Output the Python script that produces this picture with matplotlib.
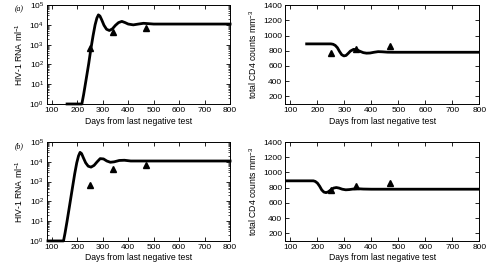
import matplotlib
matplotlib.use("Agg")
import matplotlib.pyplot as plt
from matplotlib.ticker import LogLocator, NullFormatter

# measured data (triangles), same for both rows
obs_days = [250, 342, 470]
obs_rna = [650, 4300, 7000]
obs_cd4 = [768, 828, 866]

# model (a): viral load
a_rna_days = [160, 218, 225, 235, 245, 253, 262, 270, 277, 283, 289, 296, 305, 315, 326,
              338, 350, 362, 375, 388, 400, 420, 440, 460, 480, 500, 800]
a_rna = [1, 1, 3, 18, 110, 560, 2800, 1.0e4, 2.2e4, 3.2e4, 2.8e4, 1.8e4, 9500, 6000, 5200,
         6300, 9500, 1.3e4, 1.5e4, 1.3e4, 1.1e4, 1.0e4, 1.1e4, 1.2e4, 1.15e4, 1.1e4, 1.1e4]
# model (a): CD4
a_cd4_days = [160, 250, 258, 266, 274, 282, 290, 298, 306, 314, 322, 334, 346, 358, 370,
              382, 395, 410, 425, 440, 460, 480, 800]
a_cd4 = [890, 890, 885, 870, 840, 790, 748, 732, 738, 765, 795, 818, 812, 792, 775,
         768, 770, 780, 788, 786, 781, 780, 780]

# model (b): viral load
b_rna_days = [85, 146, 152, 160, 170, 180, 190, 198, 205, 211, 217, 224, 233, 243, 254,
              266, 278, 290, 303, 316, 330, 345, 365, 385, 410, 800]
b_rna = [1, 1, 2.5, 10, 63, 400, 2500, 8900, 2.0e4, 3.0e4, 2.6e4, 1.6e4, 8900, 6000, 5400,
         6600, 1.0e4, 1.45e4, 1.4e4, 1.1e4, 9500, 1.0e4, 1.17e4, 1.2e4, 1.1e4, 1.1e4]
# model (b): CD4
b_cd4_days = [85, 185, 192, 200, 208, 216, 224, 232, 240, 250, 260, 270, 280, 292, 305,
              318, 332, 350, 370, 400, 800]
b_cd4 = [890, 890, 882, 860, 820, 770, 742, 735, 745, 772, 795, 802, 795, 780, 772,
         775, 782, 786, 782, 780, 780]

plt.rcParams['font.family'] = ['Liberation Sans', 'DejaVu Sans']
plt.rcParams['mathtext.fontset'] = 'custom'
plt.rcParams['mathtext.rm'] = 'Liberation Sans'
plt.rcParams['mathtext.it'] = 'Liberation Sans:italic'

fig = plt.figure(figsize=(4.89, 2.68), dpi=100)

left_x, left_w = 0.0955, 0.375
right_x, right_w = 0.583, 0.397
top_y, bot_y, h = 0.612, 0.101, 0.369

rows = [
    (top_y, a_rna_days, a_rna, a_cd4_days, a_cd4, '(a)', 0.965),
    (bot_y, b_rna_days, b_rna, b_cd4_days, b_cd4, '(b)', 0.455),
]


def style(ax):
    ax.tick_params(direction='in', top=True, right=True, length=3, width=0.6,
                   labelsize=6, pad=2)
    ax.tick_params(which='minor', direction='in', top=False, right=True, length=1.5, width=0.5)
    for s in ax.spines.values():
        s.set_linewidth(0.7)
    ax.set_xlim(80, 800)
    ax.set_xticks(range(100, 801, 100))
    ax.set_xlabel('Days from last negative test', fontsize=6.2, labelpad=2)


for y0, rd, rv, cd, cv, tag, ty in rows:
    ax = fig.add_axes([left_x, y0, left_w, h])
    ax.plot(rd, rv, color='black', lw=2, clip_on=False, solid_joinstyle='round')
    ax.plot(obs_days, obs_rna, '^', color='black', ms=4.5)
    ax.set_yscale('log')
    ax.set_ylim(1, 1e5)
    ax.yaxis.set_major_locator(LogLocator(base=10, numticks=10))
    ax.yaxis.set_minor_locator(LogLocator(base=10, subs=range(2, 10), numticks=10))
    ax.yaxis.set_minor_formatter(NullFormatter())
    style(ax)
    ax.set_ylabel('HIV-1 RNA ml$^{-1}$', fontsize=6.2, labelpad=3)
    fig.text(0.031, ty, tag, fontsize=5.5, style='italic',
             family=['Liberation Serif'], ha='left', va='center')

    ax2 = fig.add_axes([right_x, y0, right_w, h])
    ax2.plot(cd, cv, color='black', lw=2, solid_joinstyle='round')
    ax2.plot(obs_days, obs_cd4, '^', color='black', ms=4.5)
    ax2.set_ylim(100, 1400)
    ax2.set_yticks(range(200, 1401, 200))
    style(ax2)
    ax2.set_ylabel('total CD4 counts mm$^{-3}$', fontsize=6.2, labelpad=3)

fig.savefig('out.png', dpi=100)
